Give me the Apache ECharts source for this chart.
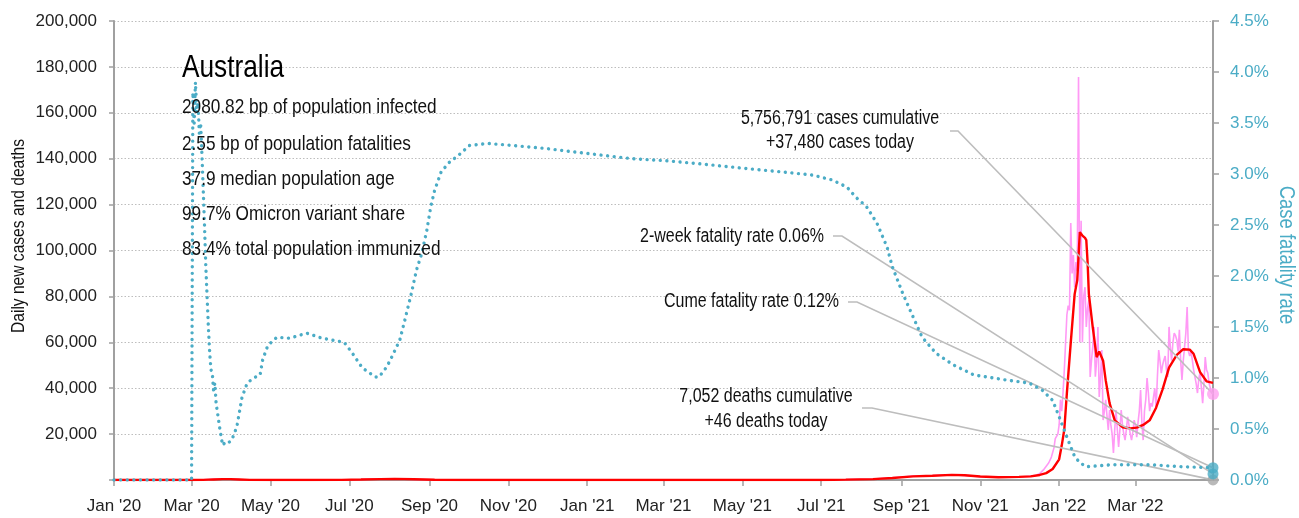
<!DOCTYPE html>
<html><head><meta charset="utf-8">
<script src="https://cdn.jsdelivr.net/npm/echarts@6/dist/echarts.min.js"></script>
<style>html,body{margin:0;padding:0;background:#fff}#c{width:1299px;height:518px}</style>
</head><body><div id="c"></div>
<script>
// ---------- data ----------
const startDay = '2020-01-01';
const endDay = '2022-04-30';
const monthNames = ['Jan','Feb','Mar','Apr','May','Jun','Jul','Aug','Sep','Oct','Nov','Dec'];
const leftTickValues = [0,20000,40000,60000,80000,100000,120000,140000,160000,180000,200000];
const rightTickValues = [0,0.5,1,1.5,2,2.5,3,3.5,4,4.5];

// cumulative case fatality rate (%), right axis
const cfrSeries = [
['2020-01-01',0],['2020-03-01',0],['2020-03-02',3.8],['2020-03-03',3.5],['2020-03-04',3.9],['2020-03-05',3.6],
['2020-03-06',3.7],['2020-03-07',3.4],['2020-03-08',3.5],['2020-03-09',3.2],['2020-03-10',2.85],['2020-03-11',2.5],
['2020-03-12',2.1],['2020-03-13',1.8],['2020-03-14',1.5],['2020-03-15',1.25],['2020-03-16',1.08],['2020-03-17',1.05],
['2020-03-18',0.88],['2020-03-19',0.95],['2020-03-20',0.75],['2020-03-23',0.49],['2020-03-25',0.34],['2020-03-27',0.37],
['2020-03-29',0.36],['2020-04-01',0.39],['2020-04-05',0.52],['2020-04-09',0.81],['2020-04-13',0.95],['2020-04-18',1.0],
['2020-04-23',1.03],['2020-04-25',1.18],['2020-04-29',1.32],['2020-05-06',1.40],['2020-05-16',1.39],['2020-05-29',1.44],
['2020-06-10',1.39],['2020-06-27',1.35],['2020-07-03',1.25],['2020-07-11',1.10],['2020-07-21',1.01],['2020-07-24',1.01],
['2020-07-30',1.11],['2020-08-03',1.21],['2020-08-09',1.37],['2020-08-13',1.57],['2020-08-18',1.83],['2020-08-22',2.06],
['2020-08-26',2.22],['2020-08-30',2.45],['2020-09-02',2.68],['2020-09-05',2.84],['2020-09-10',3.02],['2020-09-16',3.11],
['2020-09-24',3.19],['2020-10-02',3.28],['2020-10-16',3.30],['2020-11-04',3.28],['2020-11-30',3.25],['2020-12-26',3.21],
['2021-02-05',3.15],['2021-03-03',3.13],['2021-03-29',3.10],['2021-04-29',3.06],['2021-06-01',3.02],['2021-06-24',2.99],
['2021-07-10',2.94],['2021-07-21',2.87],['2021-07-28',2.77],['2021-08-05',2.68],['2021-08-13',2.52],['2021-08-21',2.28],
['2021-08-25',2.09],['2021-09-02',1.83],['2021-09-10',1.60],['2021-09-17',1.40],['2021-09-28',1.24],['2021-10-11',1.13],
['2021-10-27',1.03],['2021-11-11',1.00],['2021-11-21',0.98],['2021-12-09',0.95],['2021-12-19',0.88],['2021-12-27',0.78],
['2022-01-01',0.62],['2022-01-07',0.42],['2022-01-13',0.23],['2022-01-17',0.17],['2022-01-22',0.13],['2022-02-11',0.15],
['2022-03-12',0.15],['2022-04-06',0.13],['2022-04-30',0.12]
];

// 7-day average of new cases, left axis
const avgSeries = [
['2020-01-01',0],['2020-03-01',5],['2020-03-10',40],['2020-03-18',250],['2020-03-25',380],['2020-03-31',400],
['2020-04-07',250],['2020-04-15',60],['2020-05-01',15],['2020-06-01',15],['2020-06-25',60],['2020-07-10',200],
['2020-07-25',400],['2020-08-05',480],['2020-08-20',300],['2020-09-05',110],['2020-09-25',20],['2020-11-01',10],
['2020-12-20',20],['2021-01-10',20],['2021-03-01',10],['2021-06-01',15],['2021-07-01',30],['2021-07-20',150],
['2021-08-10',400],['2021-08-25',900],['2021-09-10',1600],['2021-09-25',1850],['2021-10-10',2250],['2021-10-20',2100],
['2021-11-01',1500],['2021-11-15',1200],['2021-12-01',1350],['2021-12-10',1600],['2021-12-17',2200],['2021-12-22',3000],
['2021-12-27',4800],['2022-01-01',9000],['2022-01-03',15000],['2022-01-05',22000],['2022-01-07',38000],['2022-01-10',60000],
['2022-01-13',81000],['2022-01-15',87000],['2022-01-17',108000],['2022-01-19',106500],['2022-01-21',105500],['2022-01-22',104500],
['2022-01-23',95000],['2022-01-24',81000],['2022-01-27',66500],['2022-01-30',53500],['2022-02-01',56000],['2022-02-04',52000],
['2022-02-06',43500],['2022-02-09',33500],['2022-02-13',26000],['2022-02-19',23000],['2022-02-25',22500],['2022-03-02',22800],
['2022-03-07',24000],['2022-03-12',26000],['2022-03-17',31500],['2022-03-22',39500],['2022-03-27',49000],['2022-04-02',54500],
['2022-04-07',57000],['2022-04-12',56800],['2022-04-15',55000],['2022-04-20',47000],['2022-04-25',43000],['2022-04-30',42300]
];

// daily new cases before 2022 (sparse readings), left axis
const dailyEarly = [
['2020-01-01',0],['2020-03-01',5],['2020-03-10',60],['2020-03-18',350],['2020-03-25',420],['2020-03-31',380],
['2020-04-07',200],['2020-04-15',50],['2020-05-01',15],['2020-06-01',15],['2020-06-25',80],['2020-07-10',250],
['2020-07-25',450],['2020-08-05',520],['2020-08-20',280],['2020-09-05',100],['2020-09-25',20],['2020-11-01',10],
['2020-12-20',25],['2021-01-10',15],['2021-03-01',10],['2021-06-01',15],['2021-07-01',30],['2021-07-20',170],
['2021-08-10',450],['2021-08-25',1000],['2021-09-10',1700],['2021-09-25',1900],['2021-10-10',2300],['2021-10-20',2000],
['2021-11-01',1400],['2021-11-15',1200],['2021-12-01',1300],['2021-12-06',1500],['2021-12-10',1700],['2021-12-14',2000],
['2021-12-17',2800],['2021-12-20',4500],['2021-12-22',6000],['2021-12-24',7500],['2021-12-26',10000],['2021-12-28',14000],
['2021-12-29',18000],['2021-12-30',19000],['2021-12-31',20000]
];
// daily new cases, every day from 2022-01-01 to 2022-04-30
const daily2022Start = '2022-01-01';
const daily2022 = [
24000,35000,30000,38000,48000,60000,72000,76000,74000,112000,90000,98000,84000,95000,91000,175600,60000,113000,60000,80000,
84000,66700,75000,78400,44900,52000,58000,66700,45000,52000,66700,
36200,45000,56600,26100,30000,34900,28000,21800,30500,24000,20000,11800,22000,30500,22000,14400,22000,30500,24000,20000,
17400,22000,27500,24000,20000,17400,21000,26100,
24000,18700,25000,30000,39200,25000,17400,30000,35000,44400,38000,30000,33500,32000,36200,40000,31000,45000,56600,52000,
46600,50000,52300,54000,48000,44900,66700,58000,52000,60000,64000,
63000,61000,56000,65400,52000,43600,52000,58000,64000,75400,56000,54000,56000,52300,48000,47900,42000,37900,44000,47000,
46600,33500,42000,53600,48000,46600,42000,40000,37900,37480
];

// latest figures
const casesCumulative = 5756791;
const casesToday = 37480;
const deathsCumulative = 7052;
const deathsToday = 46;
const cfr2week = 0.06;
const cfrCume = 0.12;
const infoLines = ['2080.82 bp of population infected','2.55 bp of population fatalities','37.9 median population age','99.7% Omicron variant share','83.4% total population immunized'];
const countryName = 'Australia';

// ---------- build ----------
const categories = [];
for (let t = Date.parse(startDay + 'T00:00:00Z'); t <= Date.parse(endDay + 'T00:00:00Z'); t += 86400000) {
  categories.push(new Date(t).toISOString().slice(0, 10));
}
const idx = {};
categories.forEach((c, i) => idx[c] = i);
const toPts = arr => arr.map(([d, v]) => [idx[d], v]);
const dailyPts = toPts(dailyEarly);
const s22 = idx[daily2022Start];
daily2022.forEach((v, i) => dailyPts.push([s22 + i, v]));
const lastIdx = categories.length - 1;

const isTick = i => { const s = categories[i]; return s.slice(8) === '01' && (parseInt(s.slice(5, 7), 10) % 2 === 1); };
const fmtNum = n => n.toLocaleString('en-US');

const SANS = '"Liberation Sans", Arial, sans-serif';
const TEAL = '#4bacc6';
const AXIS_GRAY = '#a0a0a0';
const NARROW_SCALE = 0.82;

const chart = echarts.init(document.getElementById('c'), null, { renderer: 'canvas' });
const option = {
  animation: false,
  backgroundColor: '#fff',
  grid: { left: 114, right: 86, top: 21, bottom: 38, containLabel: false },
  xAxis: {
    type: 'category', data: categories, boundaryGap: false,
    axisLine: { lineStyle: { color: AXIS_GRAY, width: 2 } },
    axisTick: { interval: (i) => isTick(i), length: 6, lineStyle: { color: AXIS_GRAY, width: 1.5 } },
    axisLabel: {
      interval: (i) => isTick(i),
      margin: 18, color: '#222', fontFamily: SANS, fontSize: 17,
      formatter: v => monthNames[parseInt(v.slice(5, 7), 10) - 1] + " '" + v.slice(2, 4)
    },
    splitLine: { show: false }
  },
  yAxis: [
    {
      type: 'value', min: leftTickValues[0], max: leftTickValues[leftTickValues.length - 1], interval: leftTickValues[1] - leftTickValues[0],
      axisLine: { show: true, lineStyle: { color: AXIS_GRAY, width: 2 } },
      axisTick: { show: true, length: 5, lineStyle: { color: AXIS_GRAY, width: 1.5 } },
      axisLabel: { margin: 17, color: '#222', fontFamily: SANS, fontSize: 17, formatter: v => v === 0 ? '' : fmtNum(v) },
      splitLine: { show: true, lineStyle: { color: '#bdbdbd', width: 1.2, type: [1.5, 2] } }
    },
    {
      type: 'value', min: rightTickValues[0], max: rightTickValues[rightTickValues.length - 1], interval: rightTickValues[1] - rightTickValues[0],
      position: 'right',
      axisLine: { show: true, lineStyle: { color: AXIS_GRAY, width: 2 } },
      axisTick: { show: true, length: 6, lineStyle: { color: AXIS_GRAY, width: 1.5 } },
      axisLabel: { margin: 17, color: TEAL, fontFamily: SANS, fontSize: 17, formatter: v => v.toFixed(1) + '%' },
      splitLine: { show: false }
    }
  ],
  series: [
    { name: 'Daily new cases', type: 'line', data: dailyPts, symbol: 'none', z: 2,
      lineStyle: { color: '#ff99f5', width: 1.6 } },
    { name: '7-day average', type: 'line', data: toPts(avgSeries), symbol: 'none', z: 3,
      lineStyle: { color: '#ff0000', width: 2.4 } },
    { name: 'Case fatality rate', type: 'line', yAxisIndex: 1, data: toPts(cfrSeries), symbol: 'none', z: 4,
      lineStyle: { color: TEAL, width: 3.4, type: [0.01, 6.6], cap: 'round' } },
    { name: 'deaths end', type: 'scatter', data: [[lastIdx, deathsToday]], symbolSize: 11, z: 5,
      itemStyle: { color: '#a8a8a8' } },
    { name: 'cfr end', type: 'scatter', yAxisIndex: 1, data: [[lastIdx, cfr2week], [lastIdx, cfrCume]], symbolSize: 11, z: 6,
      itemStyle: { color: TEAL } },
    { name: 'cases end', type: 'scatter', data: [[lastIdx, casesToday]], symbolSize: 12, z: 6,
      itemStyle: { color: '#ff9ff0' } }
  ]
};
chart.setOption(option);

// ---------- annotations ----------
const px = (v, axis) => chart.convertToPixel({ xAxisIndex: 0, yAxisIndex: axis }, [lastIdx, v]);
const annos = [
  { lines: [fmtNum(casesCumulative) + ' cases cumulative', '+' + fmtNum(casesToday) + ' cases today'], cx: 840, ys: [119, 143], start: [950, 131], elbow: 958, target: px(casesToday, 0) },
  { lines: ['2-week fatality rate ' + cfr2week.toFixed(2) + '%'], cx: 732, ys: [236.5], start: [833, 236], elbow: 842, target: px(cfr2week, 1) },
  { lines: ['Cume fatality rate ' + cfrCume.toFixed(2) + '%'], cx: 751.5, ys: [302], start: [848, 302], elbow: 857, target: px(cfrCume, 1) },
  { lines: [fmtNum(deathsCumulative) + ' deaths cumulative', '+' + deathsToday + ' deaths today'], cx: 766, ys: [396.5, 422], start: [862, 408], elbow: 872, target: px(deathsToday, 0) }
];
const txt = (t, x, y, size, align, extra) => Object.assign({
  type: 'text', x: x, y: y, z: 10, scaleX: NARROW_SCALE,
  style: { text: t, fontFamily: SANS, fontSize: size, fill: '#111', align: align, verticalAlign: 'middle' }
}, extra || {});
const graphics = [];
graphics.push(txt(countryName, 182, 68, 32, 'left', { style: { text: countryName, fontFamily: SANS, fontSize: 32, fill: '#000', align: 'left', verticalAlign: 'middle' } }));
const infoY = [107.5, 144, 179, 214, 249];
infoLines.forEach((t, i) => graphics.push(txt(t, 182, infoY[i], 21, 'left')));
annos.forEach(a => {
  a.lines.forEach((t, i) => graphics.push(txt(t, a.cx, a.ys[i], 19.5, 'center')));
  graphics.push({ type: 'polyline', z: 4, shape: { points: [a.start, [a.elbow, a.start[1]], a.target] }, style: { stroke: '#bdbdbd', lineWidth: 1.6, fill: null } });
});
graphics.push(txt('Daily new cases and deaths', 19, 236, 19, 'center', { rotation: Math.PI / 2 }));
graphics.push(txt('Case fatality rate', 1286, 255, 22.5, 'center', { rotation: -Math.PI / 2,
  style: { text: 'Case fatality rate', fontFamily: SANS, fontSize: 22.5, fill: TEAL, align: 'center', verticalAlign: 'middle' } }));
chart.setOption({ graphic: graphics });
</script>
</body></html>
